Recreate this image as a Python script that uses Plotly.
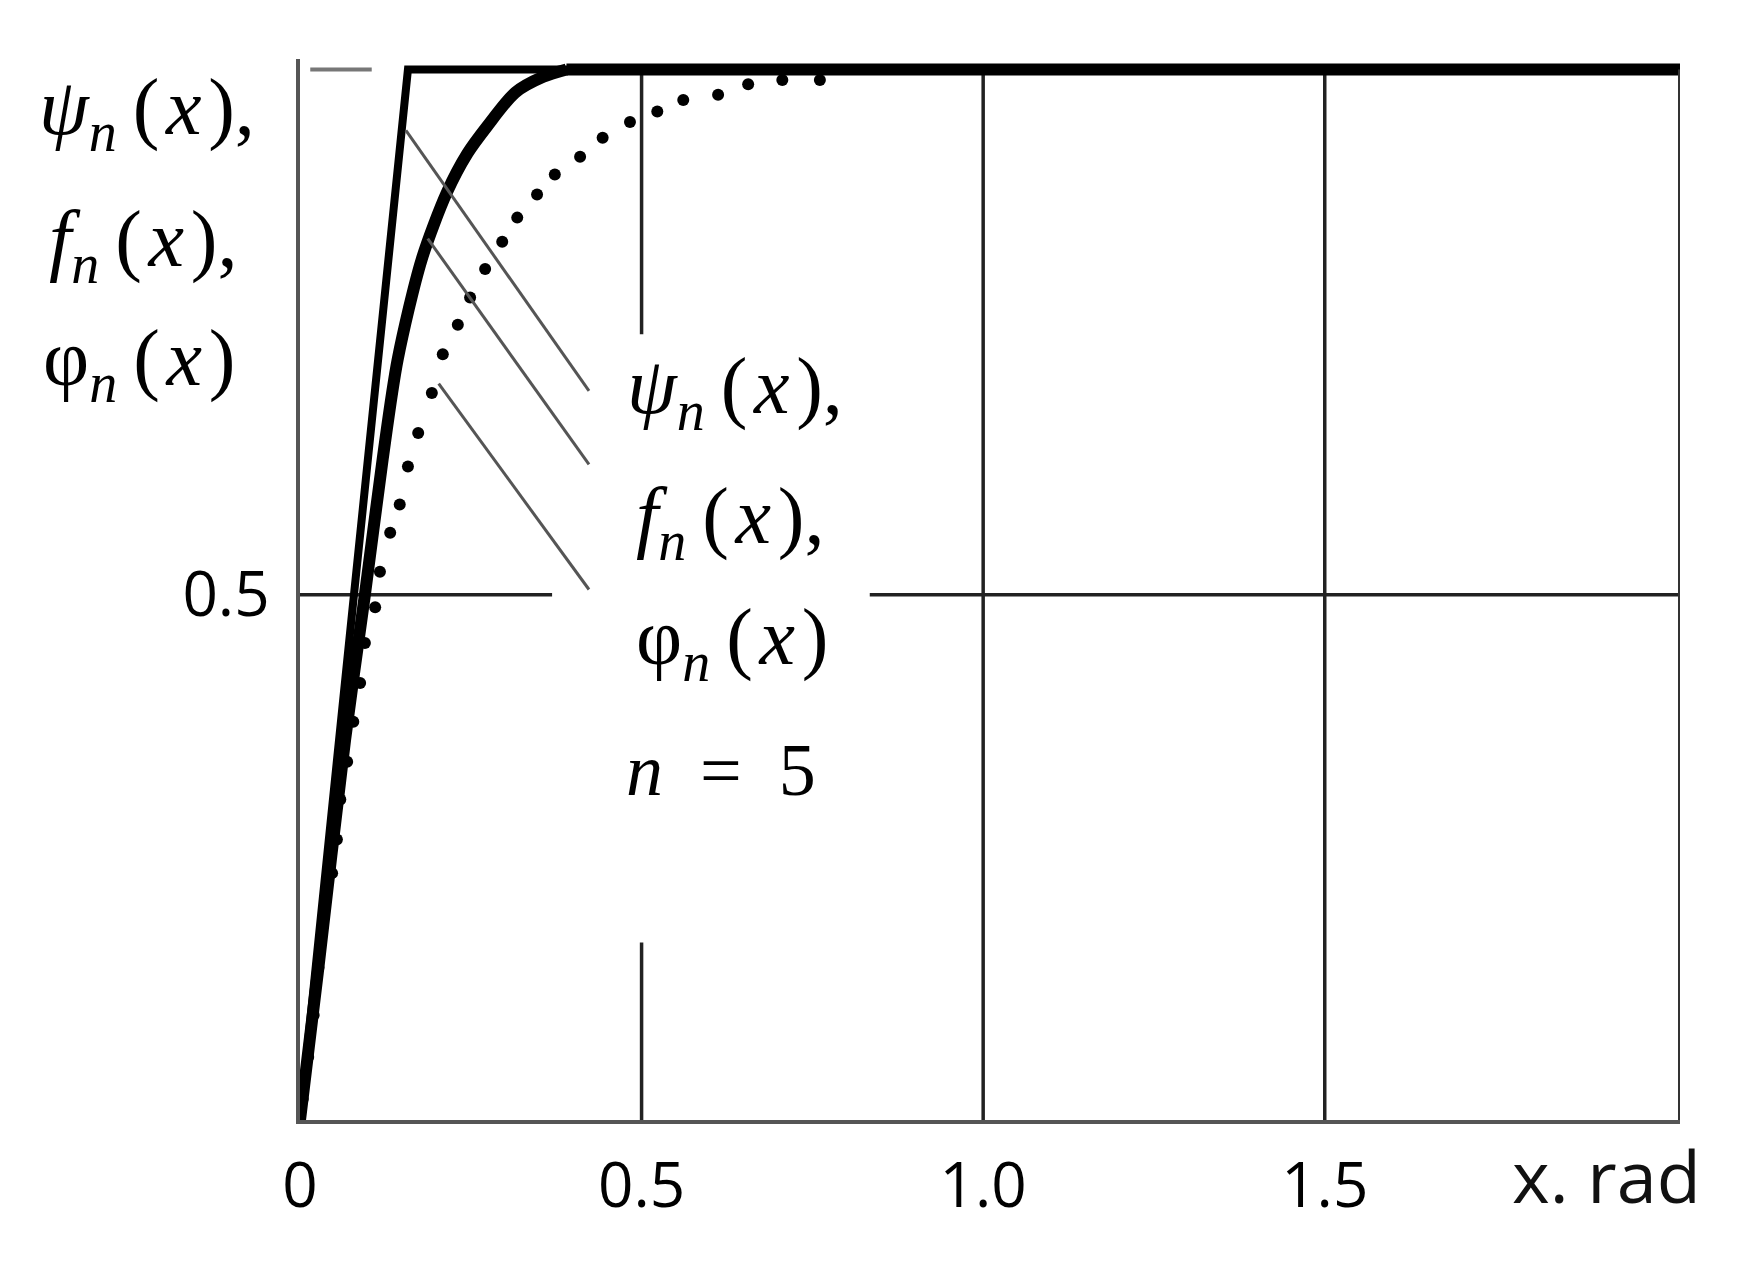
import plotly.graph_objects as go

# psi_n(x): straight rise, then flat at 1
psi_x = [0.0, 0.158, 2.02]
psi_y = [0.0, 1.0, 1.0]

# f_n(x): thick solid curve
f_x = [0.0, 0.026, 0.066, 0.095, 0.121, 0.143, 0.178, 0.215, 0.245, 0.274, 0.315, 0.356, 0.39, 2.02]
f_y = [0.0, 0.14, 0.362, 0.5, 0.629, 0.724, 0.819, 0.883, 0.920, 0.946, 0.978, 0.993, 1.0, 1.0]

# phi_n(x): dotted curve (one entry per dot)
phi_x = [0.004, 0.012, 0.020, 0.027, 0.034, 0.047, 0.054, 0.059, 0.069, 0.078, 0.088, 0.095,
         0.110, 0.117, 0.132, 0.146, 0.158, 0.173, 0.193, 0.209, 0.231, 0.249, 0.271,
         0.296, 0.318, 0.347, 0.373, 0.410, 0.443, 0.483, 0.523, 0.561, 0.612, 0.656,
         0.706, 0.761]
phi_y = [0.02, 0.06, 0.10, 0.145, 0.193, 0.235, 0.267, 0.305, 0.341, 0.379, 0.416, 0.454,
         0.488, 0.522, 0.559, 0.586, 0.622, 0.654, 0.692, 0.729, 0.757, 0.783, 0.810,
         0.836, 0.859, 0.881, 0.900, 0.917, 0.935, 0.950, 0.960, 0.971, 0.976, 0.986,
         0.990, 0.990]

x_ticks = [0, 0.5, 1.0, 1.5]
x_ticktext = ["0", "0.5", "1.0", "1.5"]
y_ticks = [0.5]
y_ticktext = ["0.5"]

X_MAX = 2.02
Y_MAX = 1.01

# grid segments (x0, y0, x1, y1); the gaps leave room for the labels
grid_segments = [
    (0.5, 0.748, 0.5, 1.0),
    (0.5, 0.0, 0.5, 0.169),
    (1.0, 0.0, 1.0, 1.0),
    (1.5, 0.0, 1.5, 1.0),
    (0.0, 0.5, 0.369, 0.5),
    (0.834, 0.5, X_MAX, 0.5),
]
# leader lines from the curves to their labels
leader_lines = [
    (0.155, 0.942, 0.423, 0.694),
    (0.187, 0.839, 0.423, 0.624),
    (0.203, 0.701, 0.423, 0.505),
]

fig = go.Figure()
fig.add_trace(go.Scatter(x=psi_x, y=psi_y, mode="lines",
                         line=dict(color="black", width=8), name="psi"))

# smooth rising part of f, then its straight plateau
k = f_y.index(1.0)
fig.add_trace(go.Scatter(x=f_x[:k + 1], y=f_y[:k + 1], mode="lines", line_shape="spline",
                         line=dict(color="black", width=12, smoothing=0.8), name="f"))
fig.add_trace(go.Scatter(x=f_x[k:], y=f_y[k:], mode="lines",
                         line=dict(color="black", width=12), name="f plateau"))

fig.add_trace(go.Scatter(x=phi_x, y=phi_y, mode="markers",
                         marker=dict(color="black", size=12), name="phi"))

shapes = []
for x0, y0, x1, y1 in grid_segments:
    shapes.append(dict(type="line", xref="x", yref="y", x0=x0, y0=y0, x1=x1, y1=y1,
                       line=dict(color="#222222", width=3.5), layer="below"))
for x0, y0, x1, y1 in leader_lines:
    shapes.append(dict(type="line", xref="x", yref="y", x0=x0, y0=y0, x1=x1, y1=y1,
                       line=dict(color="#555555", width=3)))
# short grey stub at y = 1 and right border
shapes.append(dict(type="line", xref="x", yref="y", x0=0.015, y0=1.0, x1=0.105, y1=1.0,
                   line=dict(color="#777777", width=4), layer="below"))
shapes.append(dict(type="line", xref="x", yref="y", x0=X_MAX, y0=0, x1=X_MAX, y1=1.0,
                   line=dict(color="#333333", width=4)))

TH = "\u2009"  # thin space
HS = "\u200a"  # hair space
math_font = dict(family="Liberation Serif", size=80, color="black")
label_psi = f"<i>ψ</i><sub><i>n</i></sub>{TH}({HS}<i>x</i>{HS}),"
label_f = f"<i>f</i><sub><i>n</i></sub>{TH}({HS}<i>x</i>{HS}),"
label_phi = f"φ<sub><i>n</i></sub>{TH}({HS}<i>x</i>{HS})"
label_n = "<i>n</i>\u2002=\u20025"

annotations = [
    # labels inside the plot
    dict(x=0.637, y=0.693, xref="x", yref="y", text=label_psi),
    dict(x=0.629, y=0.569, xref="x", yref="y", text=label_f),
    dict(x=0.632, y=0.454, xref="x", yref="y", text=label_phi),
    # y axis title, three lines
    dict(x=-0.111, y=0.949, xref="paper", yref="paper", text=label_psi),
    dict(x=-0.114, y=0.825, xref="paper", yref="paper", text=label_f),
    dict(x=-0.117, y=0.713, xref="paper", yref="paper", text=label_phi),
]
for a in annotations:
    a.update(showarrow=False, font=math_font, xanchor="center", yanchor="middle")
annotations.append(dict(x=0.616, y=0.333, xref="x", yref="y", text=label_n,
                        showarrow=False, xanchor="center", yanchor="middle",
                        font=dict(family="Liberation Serif", size=74, color="black")))
annotations.append(dict(x=0.947, y=-0.052, xref="paper", yref="paper", text="x. rad",
                        showarrow=False, xanchor="center", yanchor="middle",
                        font=dict(family="Open Sans", size=72, color="#111111")))

fig.update_layout(
    width=1728, height=1246,
    margin=dict(l=292, r=56, t=51, b=134),
    paper_bgcolor="white", plot_bgcolor="white",
    showlegend=False,
    shapes=shapes,
    annotations=annotations,
)
fig.update_xaxes(range=[0, X_MAX], showgrid=False, zeroline=False,
                 showline=True, linecolor="#555555", linewidth=4,
                 tickvals=x_ticks, ticktext=x_ticktext, ticks="",
                 tickfont=dict(family="Open Sans", size=62, color="black"),
                 ticklabelstandoff=9)
fig.update_yaxes(range=[0, Y_MAX], showgrid=False, zeroline=False,
                 showline=True, linecolor="#555555", linewidth=4,
                 tickvals=y_ticks, ticktext=y_ticktext, ticks="",
                 tickfont=dict(family="Open Sans", size=62, color="black"),
                 ticklabelstandoff=14)

fig.write_html("out.html")
